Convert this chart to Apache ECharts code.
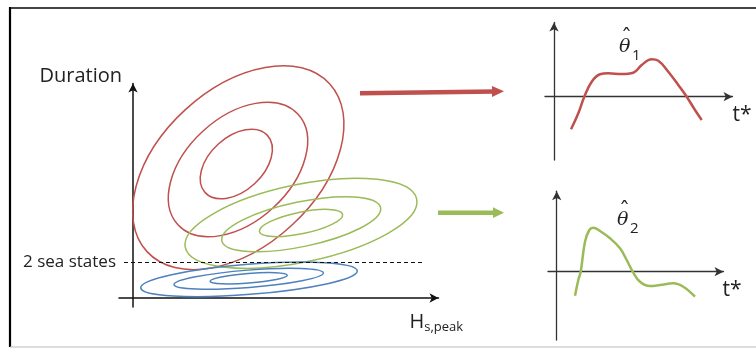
<!DOCTYPE html>
<html><head><meta charset="utf-8">
<script src="https://cdn.jsdelivr.net/npm/echarts@6/dist/echarts.min.js"></script>
<style>html,body{margin:0;padding:0;background:#fff}#c{width:756px;height:349px}</style>
</head><body><div id="c"></div>
<script>
// ---- data (main plot units: Hs,peak on x, Duration on y) ----
// each contour: [centreX, centreY, semiMajor, semiMinor, tiltDeg]
const redContours   = [[10.53,13.03,12.4,7.86,42.6],[10.5,12.85,8.16,5.2,42.6],[10.33,13.4,4.23,2.69,42.6]];
const greenContours = [[16.8,7.47,11.82,3.88,11.8],[16.82,7.38,8.11,2.24,11.8],[16.8,7.5,4.25,1.08,11.8]];
const blueContours  = [[11.6,1.87,10.86,1.51,4.5],[11.57,1.92,7.49,0.87,4.5],[11.57,1.97,3.87,0.48,4.5]];
const seaStatesLevel = 3.6;
const seaStatesSpan = [-0.9, 29.1];
const seaStatesLabel = '2 sea states';
// parameter curves over t*
const theta1Curve = [[1.7,-3.26],[2.43,-1.66],[3.03,0],[3.77,1.5],[4.6,2.24],[5.43,2.34],[6.77,2.27],[7.93,2.4],[8.77,3.17],[9.77,3.74],[10.43,3.6],[11.43,2.5],[12.43,1.17],[13.27,0],[14.1,-1.33],[14.77,-2.33]];
const theta2Curve = [[1.83,-2.4],[2.16,-0.83],[2.4,0],[2.83,3.0],[3.26,4.17],[3.66,4.4],[4.33,4.07],[5.33,3.34],[6.33,2.34],[7.0,1.17],[7.6,0],[8.33,-1.0],[9.33,-1.43],[10.33,-1.33],[11.66,-1.16],[12.66,-1.5],[13.83,-2.5]];
const axisNames = {duration:'Duration', hs:'H', hsSub:'s,peak', t:'t*'};
const curveNames = {theta:'\u03B8', hat:'\u02C6', sub1:'1', sub2:'2'};

const RED = '#c0504d', GREEN = '#9bbb59', BLUE = '#4f81bd';
const FONT = '"Open Sans"';
const TXT = '#222';

function renderEllipse(params, api) {
  const c = api.coord([api.value(0), api.value(1)]);
  const s = api.size([api.value(2), api.value(3)]);
  return {
    type: 'ellipse',
    x: c[0], y: c[1],
    rotation: api.value(4) * Math.PI / 180,
    shape: {cx: 0, cy: 0, rx: Math.abs(s[0]), ry: Math.abs(s[1])},
    style: {fill: 'none', stroke: api.visual('color'), lineWidth: 1.5}
  };
}
function ellipseSeries(data, color) {
  return {type: 'custom', xAxisIndex: 0, yAxisIndex: 0, data: data, encode: {x: 0, y: 1},
    renderItem: renderEllipse, itemStyle: {color: color}, clip: false, silent: true};
}
function axis(gridIndex, min, max, color, width, extra) {
  return Object.assign({
    type: 'value', gridIndex: gridIndex, min: min, max: max,
    axisLine: {show: true, onZero: true, symbol: ['none', 'arrow'], symbolSize: [7, 9],
      lineStyle: {color: color, width: width}},
    axisTick: {show: false}, axisLabel: {show: false}, splitLine: {show: false}
  }, extra || {});
}

const chart = echarts.init(document.getElementById('c'), null, {renderer: 'canvas'});
chart.setOption({
  animation: false,
  backgroundColor: '#fff',
  grid: [
    {left: 119, top: 83.5, width: 319.5, height: 223.5},
    {left: 545, top: 22.5, width: 187.5, height: 137.5},
    {left: 548, top: 191.2, width: 175.5, height: 148.8}
  ],
  xAxis: [
    axis(0, -1.4, 30.55, '#111', 1.5, {name: '{h|' + axisNames.hs + '}{s|' + axisNames.hsSub + '}', nameLocation: 'end', nameGap: -29,
      nameTextStyle: {align: 'left', verticalAlign: 'top', padding: [13, 0, 0, 0],
        rich: {h: {fontFamily: FONT, fontSize: 20, color: TXT}, s: {fontFamily: FONT, fontSize: 13, color: TXT, padding: [10, 0, 0, 0]}}}}),
    axis(1, -0.9, 17.85, '#333', 1.3, {name: axisNames.t, nameLocation: 'end', nameGap: 0,
      nameTextStyle: {fontFamily: FONT, fontSize: 21, color: TXT, align: 'left', verticalAlign: 'top', padding: [8, 0, 0, 0]}}),
    axis(2, -0.87, 16.68, '#333', 1.3, {name: axisNames.t, nameLocation: 'end', nameGap: -1,
      nameTextStyle: {fontFamily: FONT, fontSize: 21, color: TXT, align: 'left', verticalAlign: 'top', padding: [8, 0, 0, 0]}})
  ],
  yAxis: [
    axis(0, -0.9, 21.45, '#111', 1.5, {name: axisNames.duration, nameLocation: 'end', nameGap: 7.5,
      nameTextStyle: {fontFamily: FONT, fontSize: 20, color: TXT, align: 'right', verticalAlign: 'middle', padding: [0, 11, 0, 0]}}),
    axis(1, -6.33, 7.42, '#333', 1.3),
    axis(2, -6.83, 8.05, '#333', 1.3)
  ],
  series: [
    ellipseSeries(redContours, RED),
    ellipseSeries(greenContours, GREEN),
    ellipseSeries(blueContours, BLUE),
    {type: 'line', xAxisIndex: 0, yAxisIndex: 0, data: [], silent: true,
      markLine: {silent: true, symbol: ['none', 'none'],
        lineStyle: {color: '#111', type: [4, 3], width: 1},
        label: {show: true, position: 'start', formatter: seaStatesLabel, fontFamily: FONT, fontSize: 17, color: TXT, distance: 8},
        data: [[{coord: [seaStatesSpan[0], seaStatesLevel]}, {coord: [seaStatesSpan[1], seaStatesLevel]}]]}},
    {type: 'line', xAxisIndex: 1, yAxisIndex: 1, data: theta1Curve, smooth: 0.4, showSymbol: false, silent: true,
      lineStyle: {color: RED, width: 2.5}},
    {type: 'line', xAxisIndex: 2, yAxisIndex: 2, data: theta2Curve, smooth: 0.4, showSymbol: false, silent: true,
      lineStyle: {color: GREEN, width: 2.5}}
  ],
  graphic: [
    {type: 'line', shape: {x1: 9, y1: 8, x2: 756, y2: 8}, style: {stroke: '#444', lineWidth: 2}},
    {type: 'line', shape: {x1: 10, y1: 7, x2: 10, y2: 347}, style: {stroke: '#000', lineWidth: 2.2}},
    {type: 'line', shape: {x1: 10, y1: 347, x2: 756, y2: 347}, style: {stroke: '#bbb', lineWidth: 1}},
    {type: 'line', shape: {x1: 360, y1: 93.3, x2: 495, y2: 91.6}, style: {stroke: RED, lineWidth: 4.5}},
    {type: 'polygon', shape: {points: [[492, 86], [504, 91.3], [492, 97]]}, style: {fill: RED}},
    {type: 'line', shape: {x1: 438, y1: 212.7, x2: 495, y2: 212.7}, style: {stroke: GREEN, lineWidth: 4.5}},
    {type: 'polygon', shape: {points: [[493, 207.3], [504, 212.7], [493, 218.1]]}, style: {fill: GREEN}},
    {type: 'text', x: 619, y: 38, style: {text: curveNames.theta, font: 'italic 19px "DejaVu Serif"', fill: TXT}},
    {type: 'text', x: 621, y: 28, style: {text: curveNames.hat, font: '22px "DejaVu Serif"', fill: TXT}},
    {type: 'text', x: 632, y: 48, style: {text: curveNames.sub1, font: '15px "Open Sans"', fill: TXT}},
    {type: 'text', x: 617, y: 211, style: {text: curveNames.theta, font: 'italic 19px "DejaVu Serif"', fill: TXT}},
    {type: 'text', x: 619, y: 201, style: {text: curveNames.hat, font: '22px "DejaVu Serif"', fill: TXT}},
    {type: 'text', x: 630, y: 221, style: {text: curveNames.sub2, font: '15px "Open Sans"', fill: TXT}}
  ]
});
</script></body></html>
